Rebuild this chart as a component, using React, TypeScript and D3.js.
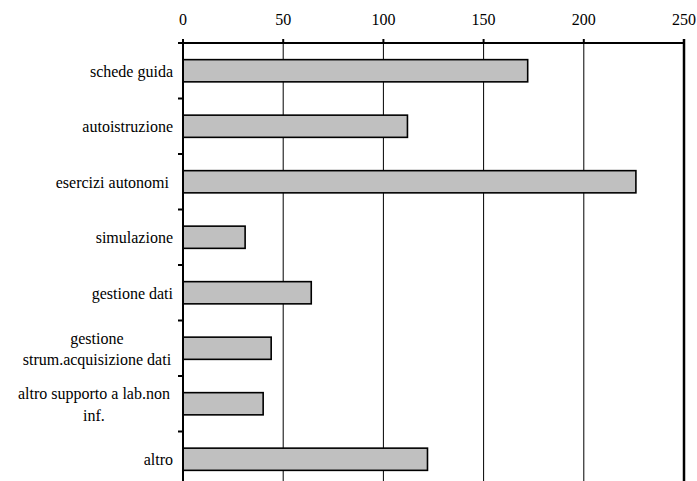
import React from "react";
import * as d3 from "d3";

const categories = [
  "schede guida",
  "autoistruzione",
  "esercizi autonomi\u00a0",
  "simulazione",
  "gestione dati",
  "gestione\nstrum.acquisizione dati",
  "altro supporto a lab.non\ninf.",
  "altro",
];
const values = [172, 112, 226, 31, 64, 44, 40, 122];
const xTicks = [0, 50, 100, 150, 200, 250];

const W = 697;
const H = 481;
const left = 183;
const right = 684;
const top = 43;
const bottom = 487;
const FS = 16;
const FONT = "Liberation Serif";

// approximate Liberation Serif advance widths (em) for centering multi-line labels
function measure(s: string): number {
  let w = 0;
  for (const ch of s) {
    if ("il.tfj ".includes(ch)) w += 0.28;
    else if ("mw".includes(ch)) w += 0.75;
    else if ("rsz".includes(ch)) w += 0.38;
    else w += 0.5;
  }
  return w * FS;
}

export default function App() {
  const x = d3.scaleLinear().domain([0, 250]).range([left, right]);
  const y = d3.scaleBand<string>().domain(categories).range([top, bottom]).padding(0);
  const bw = y.bandwidth() * 0.4;
  const boundaries = categories.map((c) => y(c) as number).concat([bottom]);
  const labelRight = 173;
  const lh = 21.5;

  return (
    <svg width={W} height={H} style={{ position: "absolute", left: 0, top: 0 }}>
      <rect x={0} y={0} width={W} height={H} fill="#fff" />
      {xTicks.slice(1, -1).map((t) => (
        <line key={"g" + t} x1={x(t)} x2={x(t)} y1={top} y2={bottom} stroke="#000" strokeWidth={1} />
      ))}
      <line x1={x(250)} x2={x(250)} y1={top - 4} y2={bottom} stroke="#000" strokeWidth={2.5} />
      {categories.map((c, i) => (
        <rect
          key={"b" + i}
          x={x(0)}
          y={(y(c) as number) + y.bandwidth() / 2 - bw / 2}
          width={x(values[i]) - x(0)}
          height={bw}
          fill="#C0C0C0"
          stroke="#000"
          strokeWidth={1.6}
        />
      ))}
      <line x1={left - 5} x2={right} y1={top} y2={top} stroke="#000" strokeWidth={2} />
      {xTicks.map((t) => (
        <g key={"t" + t}>
          <line x1={x(t)} x2={x(t)} y1={top - 4} y2={top} stroke="#000" strokeWidth={2} />
          <text
            x={x(t)}
            y={top - 18.5}
            textAnchor="middle"
            fill="#000"
            fontFamily={FONT}
            fontSize={FS}
            style={{ fontFamily: FONT, fontSize: FS }}
          >
            {t}
          </text>
        </g>
      ))}
      <line x1={left} x2={left} y1={top - 1} y2={bottom} stroke="#000" strokeWidth={2} />
      {boundaries.map((b, i) => (
        <line key={"lt" + i} x1={left - 5} x2={left} y1={b} y2={b} stroke="#000" strokeWidth={2} />
      ))}
      {categories.map((c, i) => {
        const lines = c.split("\n");
        const cy = (y(c) as number) + y.bandwidth() / 2;
        const maxW = Math.max(...lines.map(measure));
        const multi = lines.length > 1;
        const cx = multi ? labelRight - maxW / 2 : labelRight;
        return (
          <g key={"l" + i}>
            {lines.map((ln, j) => (
              <text
                key={j}
                x={cx}
                y={cy + 6 + (j - (lines.length - 1) / 2) * lh}
                textAnchor={multi ? "middle" : "end"}
                fill="#000"
                fontFamily={FONT}
                fontSize={FS}
                style={{ fontFamily: FONT, fontSize: FS }}
              >
                {ln}
              </text>
            ))}
          </g>
        );
      })}
    </svg>
  );
}
